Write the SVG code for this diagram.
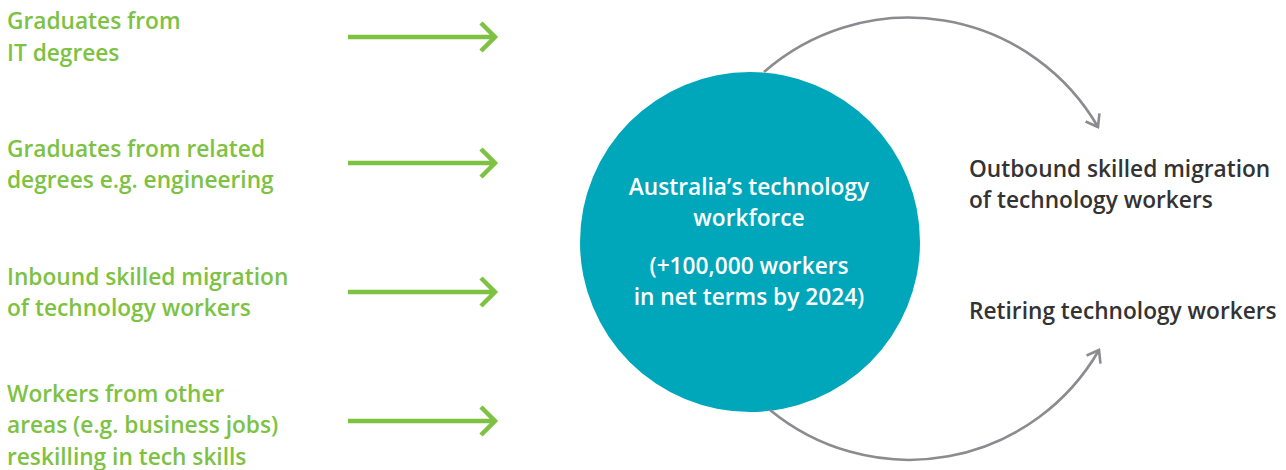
<svg xmlns="http://www.w3.org/2000/svg" width="1286" height="470" viewBox="0 0 1286 470">
  <style>
    .src { font-family: "Open Sans", "Liberation Sans", sans-serif; font-weight: 600; font-size: 22.7px; fill: #7dc242; }
    .out { font-family: "Open Sans", "Liberation Sans", sans-serif; font-weight: 600; font-size: 22.7px; fill: #333333; }
    .core { font-family: "Open Sans", "Liberation Sans", sans-serif; font-weight: 600; font-size: 22.7px; fill: #ffffff; text-anchor: middle; }
    .inflow { stroke: #7dc242; stroke-width: 4.5; fill: none; }
    .outflow { stroke: #8b8b90; stroke-width: 2.6; fill: none; }
  </style>
  <defs>
    <marker id="greyHead" viewBox="-12 -9 14 18" markerWidth="14" markerHeight="18" refX="0" refY="0" orient="auto" markerUnits="userSpaceOnUse">
      <polyline points="-11,-8 0,0 -11,8" fill="none" stroke="#8b8b90" stroke-width="2.6"/>
    </marker>
  </defs>

  <rect width="1286" height="470" fill="#ffffff"/>

  <!-- inflows -->
  <g id="source-it-graduates">
    <text class="src" x="7" y="29">Graduates from</text>
    <text class="src" x="7" y="61">IT degrees</text>
  </g>
  <g id="source-related-graduates">
    <text class="src" x="7" y="157">Graduates from related</text>
    <text class="src" x="7" y="188">degrees e.g. engineering</text>
  </g>
  <g id="source-inbound-migration">
    <text class="src" x="7" y="285">Inbound skilled migration</text>
    <text class="src" x="7" y="316">of technology workers</text>
  </g>
  <g id="source-reskilling">
    <text class="src" x="7" y="402">Workers from other</text>
    <text class="src" x="7" y="433">areas (e.g. business jobs)</text>
    <text class="src" x="7" y="465">reskilling in tech skills</text>
  </g>

  <!-- central workforce -->
  <g id="workforce">
    <circle cx="750" cy="242" r="170" fill="#00a7bb"/>
    <text class="core" x="749" y="195">Australia’s technology</text>
    <text class="core" x="749" y="226">workforce</text>
    <text class="core" x="749" y="274">(+100,000 workers</text>
    <text class="core" x="749" y="305">in net terms by 2024)</text>
  </g>

  <!-- outflows -->
  <g id="outflow-migration">
    <text class="out" x="969" y="177">Outbound skilled migration</text>
    <text class="out" x="969" y="208">of technology workers</text>
  </g>
  <g id="outflow-retiring">
    <text class="out" x="969" y="319">Retiring technology workers</text>
  </g>

  <g id="connectors">
    <g class="inflow">
      <path d="M348,37 H494 M481,23 L495,37 L481,51"/>
      <path d="M348,163 H494 M481,149 L495,163 L481,177"/>
      <path d="M348,292 H494 M481,278 L495,292 L481,306"/>
      <path d="M348,421 H494 M481,407 L495,421 L481,435"/>
    </g>
    <path class="outflow" d="M764,72 A219,219 0 0,1 1098,127" marker-end="url(#greyHead)"/>
    <path class="outflow" d="M770,410 A219,219 0 0,0 1099,350" marker-end="url(#greyHead)"/>
  </g>
</svg>
